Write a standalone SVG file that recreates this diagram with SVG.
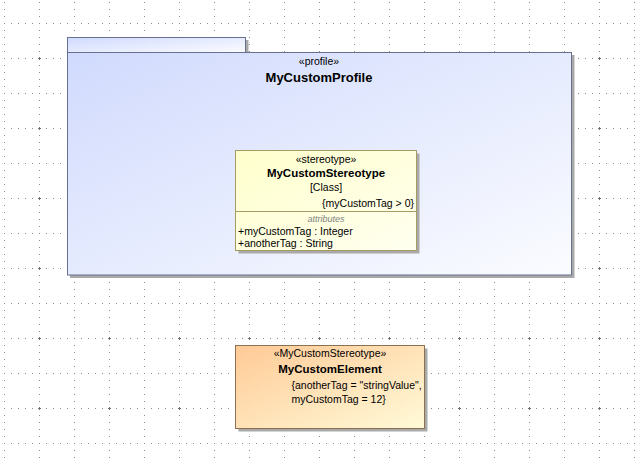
<svg xmlns="http://www.w3.org/2000/svg" width="636" height="462" viewBox="0 0 636 462">
<style>
text { font-family: "Liberation Sans", Arial, sans-serif; font-size: 10.5px; fill: #000; }
.c { text-anchor: middle; }
.e { text-anchor: end; }
.b { font-weight: bold; font-size: 11.5px; }
.big { font-weight: bold; font-size: 13px; }
.it { font-style: italic; fill: #808080; font-size: 9px; }
.shadow { fill: #a9a9a9; }
.dots line { stroke: #8c8c8c; stroke-width: 1; stroke-dasharray: 1 6; }
</style>
<defs>
<pattern id="grid" patternUnits="userSpaceOnUse" x="4" y="23" width="70" height="70">
<g class="dots">
<line x1="0.5" y1="0" x2="0.5" y2="70"/>
<line x1="35.5" y1="0" x2="35.5" y2="70"/>
<line x1="0" y1="0.5" x2="70" y2="0.5"/>
<line x1="0" y1="35.5" x2="70" y2="35.5"/>
</g>
<rect x="34" y="35" width="3" height="1" fill="#707070"/>
<rect x="35" y="34" width="1" height="3" fill="#707070"/>
</pattern>
<linearGradient id="pkgFill" x1="0" y1="0" x2="1" y2="1">
<stop offset="0" stop-color="#d0dafd"/>
<stop offset="1" stop-color="#fbfcff"/>
</linearGradient>
<linearGradient id="stFill" x1="0" y1="0" x2="1" y2="1">
<stop offset="0" stop-color="#ffffcc"/>
<stop offset="1" stop-color="#fffff0"/>
</linearGradient>
<linearGradient id="elFill" x1="0" y1="0" x2="1" y2="1">
<stop offset="0" stop-color="#ffca96"/>
<stop offset="1" stop-color="#fffad8"/>
</linearGradient>
</defs>
<rect x="0" y="0" width="636" height="462" fill="#ffffff"/>
<rect x="0" y="0" width="636" height="462" fill="url(#grid)"/>

<g id="MyCustomProfile">
<rect class="shadow" x="70" y="40" width="178.5" height="15"/>
<rect class="shadow" x="70" y="55" width="504.5" height="223"/>
<rect x="67.5" y="37.5" width="178" height="15" fill="url(#pkgFill)" stroke="#67708f" stroke-width="1"/>
<rect x="67.5" y="52.5" width="504" height="222.5" fill="url(#pkgFill)" stroke="#67708f" stroke-width="1"/>
<text class="c" x="319" y="65">«profile»</text>
<text class="c big" x="319" y="82">MyCustomProfile</text>
</g>

<g id="MyCustomStereotype">
<rect class="shadow" x="238.5" y="153.5" width="181" height="100"/>
<rect x="235.5" y="150.5" width="181" height="100" fill="url(#stFill)" stroke="#a59c63" stroke-width="1"/>
<line x1="235.5" y1="211.5" x2="416.5" y2="211.5" stroke="#a59c63" stroke-width="1"/>
<text class="c" x="326" y="163">«stereotype»</text>
<text class="c b" x="326" y="177">MyCustomStereotype</text>
<text class="c" x="326" y="191">[Class]</text>
<text class="e" x="414" y="206.5">{myCustomTag &gt; 0}</text>
<text class="c it" x="326" y="221.5">attributes</text>
<text x="238" y="234.5">+myCustomTag : Integer</text>
<text x="238" y="247">+anotherTag : String</text>
</g>

<g id="MyCustomElement">
<rect class="shadow" x="238.5" y="348.5" width="189" height="83"/>
<rect x="235.5" y="345.5" width="189" height="83" fill="url(#elFill)" stroke="#8b7152" stroke-width="1"/>
<text class="c" x="330" y="357">«MyCustomStereotype»</text>
<text class="c b" x="330" y="372.5">MyCustomElement</text>
<text x="291.5" y="389">{anotherTag = "stringValue",</text>
<text x="291.5" y="403">myCustomTag = 12}</text>
</g>

<g id="connectors"/>
</svg>
